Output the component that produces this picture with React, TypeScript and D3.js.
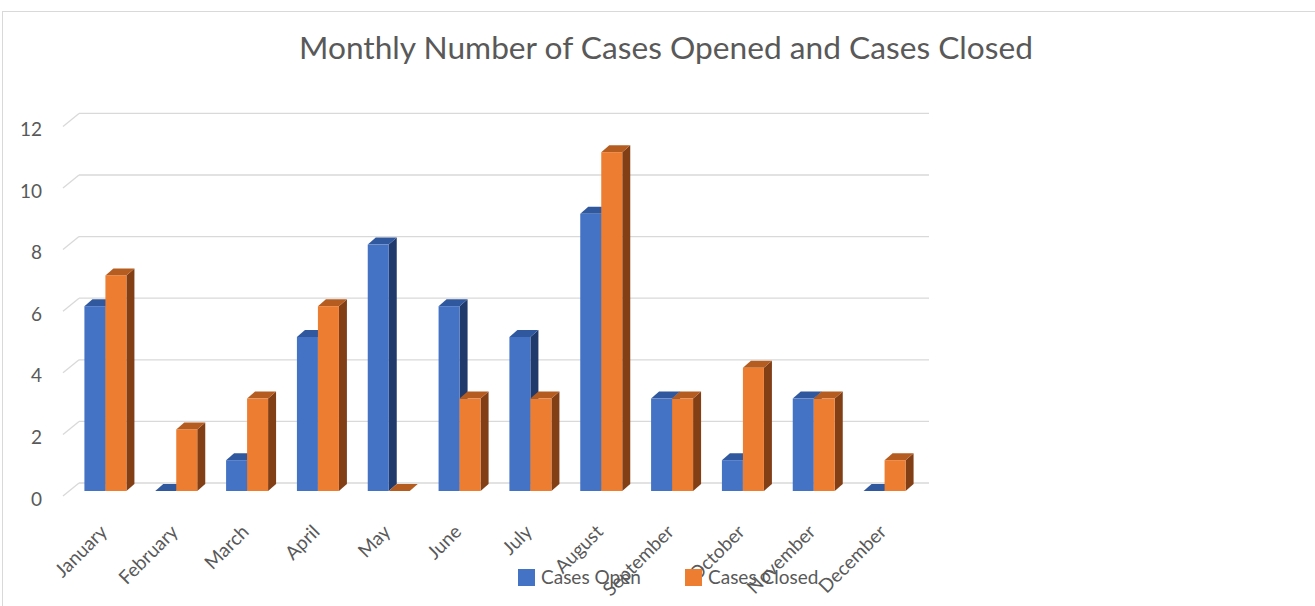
import React from "react";
import * as d3 from "d3";

const months = [
  "January", "February", "March", "April", "May", "June",
  "July", "August", "September", "October", "November", "December",
];
const casesOpen = [6, 0, 1, 5, 8, 6, 5, 9, 3, 1, 3, 0];
const casesClosed = [7, 2, 3, 6, 0, 3, 3, 11, 3, 4, 3, 1];
const yTicks = [0, 2, 4, 6, 8, 10, 12];

const series = [
  { name: "Cases Open", values: casesOpen, front: "#4472C4", side: "#213A6C", top: "#30589E" },
  { name: "Cases Closed", values: casesClosed, front: "#ED7D31", side: "#823F16", top: "#B55D20" },
];

const W = 1315;
const H = 606;
const font = "Lato, 'Open Sans', sans-serif";
const textColor = "#595959";

// 3d offsets
const backDx = 9;
const backDy = -8;
const barDx = 8;
const barDy = -7;

export default function App() {
  const x = d3.scaleBand<string>().domain(months).range([70, 920]);
  const y = d3.scaleLinear().domain([0, 12]).range([491, 121.4]);
  const barW = 21;

  const face = (pts: [number, number][]) => d3.line()(pts) + "Z";

  return (
    <svg
      width={W}
      height={H}
      style={{ position: "absolute", left: 0, top: 0, background: "#fff" }}
      fontFamily={font}
    >
      <rect x={2.5} y={11.5} width={1330} height={700} fill="#fff" stroke="#d9d9d9" />

      <text
        x={666}
        y={59}
        textAnchor="middle"
        fontSize={30}
        fill={textColor}
        textLength={734}
        lengthAdjust="spacingAndGlyphs"
      >
        Monthly Number of Cases Opened and Cases Closed
      </text>

      {/* gridlines on the back wall, with the short floor diagonal on the left */}
      {yTicks.map((t) => {
        const yb = y(t) + backDy;
        return (
          <g key={t}>
            <line x1={70 + backDx} x2={920 + backDx} y1={yb} y2={yb} stroke="#d9d9d9" strokeWidth={1.3} />
            <line x1={63} y1={yb + 13} x2={70 + backDx} y2={yb} stroke="#d9d9d9" strokeWidth={1.3} />
            <text x={42} y={yb + 16} dy="0.35em" textAnchor="end" fontSize={19} fill={textColor}>
              {t}
            </text>
          </g>
        );
      })}

      {/* bars */}
      {months.map((m, i) => {
        const cx = (x(m) as number) + x.bandwidth() / 2;
        return (
          <g key={m}>
            {series.map((s, si) => {
              const x0 = cx - barW + si * barW;
              const x1 = x0 + barW;
              const yt = y(s.values[i]);
              const yb = y(0);
              return (
                <g key={s.name}>
                  <path
                    d={face([[x1, yt], [x1 + barDx, yt + barDy], [x1 + barDx, yb + barDy], [x1, yb]])}
                    fill={s.side}
                  />
                  <path
                    d={face([[x0, yt], [x1, yt], [x1 + barDx, yt + barDy], [x0 + barDx, yt + barDy]])}
                    fill={s.top}
                  />
                  {yb - yt > 0 && <rect x={x0} y={yt} width={barW} height={yb - yt} fill={s.front} />}
                </g>
              );
            })}
          </g>
        );
      })}

      {/* category labels */}
      {months.map((m) => {
        const cx = (x(m) as number) + x.bandwidth() / 2;
        return (
          <text
            key={m}
            transform={`translate(${cx + 3},${533}) rotate(-45)`}
            textAnchor="end"
            fontSize={19}
            fill={textColor}
          >
            {m}
          </text>
        );
      })}

      {/* legend */}
      {series.map((s, i) => {
        const lx = 518 + i * 167;
        return (
          <g key={s.name}>
            <rect x={lx} y={569} width={17} height={17} fill={s.front} />
            <text x={lx + 23} y={584} fontSize={19} fill={textColor}>
              {s.name}
            </text>
          </g>
        );
      })}
    </svg>
  );
}
